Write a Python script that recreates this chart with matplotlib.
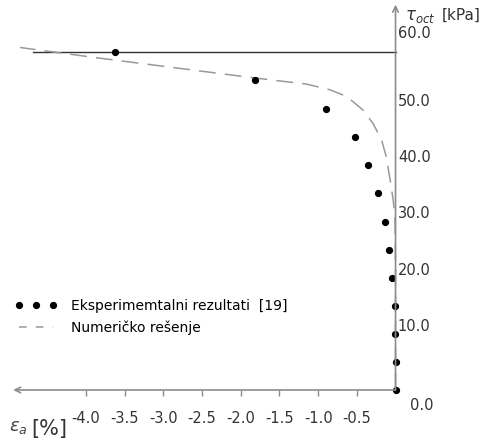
import matplotlib
matplotlib.use("Agg")
import matplotlib.pyplot as plt
from matplotlib.lines import Line2D

# experimental points (strain %, tau_oct kPa)
exp_strain = [0.0, 0.0, -0.005, -0.005, -0.04, -0.08, -0.14, -0.22, -0.36, -0.53, -0.90, -1.82, -3.62]
exp_tau = [0.0, 4.9, 9.9, 14.9, 19.9, 24.9, 29.8, 34.9, 40.0, 44.9, 49.9, 55.0, 60.0]

# numerical solution
num_strain = [0.0, 0.0, -0.006, -0.03, -0.07, -0.12, -0.18, -0.29, -0.42, -0.63, -0.85,
              -1.15, -1.58, -2.0, -2.96, -3.82, -4.85]
num_tau = [0.0, 22.0, 30.2, 33.7, 37.3, 41.4, 44.4, 47.3, 49.7, 52.1, 53.3,
           54.3, 55.0, 55.7, 57.4, 58.9, 60.8]

# failure line
fail_tau = 60.0
fail_strain = [-4.68, 0.0]

x_ticks = [-4.0, -3.5, -3.0, -2.5, -2.0, -1.5, -1.0, -0.5]
y_ticks = [10, 20, 30, 40, 50, 60]

plt.rcParams['font.family'] = ['DejaVu Sans']
plt.rcParams['mathtext.fontset'] = 'dejavusans'

fig = plt.figure(figsize=(4.84, 4.40), dpi=100)
ax = fig.add_axes([0, 0, 1, 1])
ax.set_xlim(-5.11, 1.143)
ax.set_ylim(-8.876, 69.23)
ax.axis('off')

axis_col = '#8c8c8c'
ax.annotate('', xy=(-4.94, 0), xytext=(0, 0),
            arrowprops=dict(arrowstyle='->', color=axis_col, lw=1.2, shrinkA=0, shrinkB=0))
ax.annotate('', xy=(0, 68.4), xytext=(0, 0),
            arrowprops=dict(arrowstyle='->', color=axis_col, lw=1.2, shrinkA=0, shrinkB=0))

# tick marks on x axis
ax.plot(x_ticks, [0] * len(x_ticks), linestyle='none', marker=3, markersize=4,
        color=axis_col, markeredgewidth=1)

for xt in x_ticks:
    ax.text(xt, -5.1, f'{xt:.1f}', ha='center', va='center', fontsize=10.5, color='#333333')
ax.text(0.34, -2.7, '0.0', ha='center', va='center', fontsize=10.5, color='#333333')
for yt in y_ticks:
    off = 3.2 if yt == 60 else 1.3
    ax.text(0.03, yt + off, f'{yt:.1f}', ha='left', va='center', fontsize=10.5, color='#333333')

ax.text(0.12, 66.4, r'$\tau_{oct}$', ha='left', va='center', fontsize=12, color='#333333')
ax.text(0.6, 66.6, '[kPa]', ha='left', va='center', fontsize=11, color='#333333')
ax.text(-5.0, -6.5, r'$\varepsilon_a$', ha='left', va='center', fontsize=13, color='#444444')
ax.text(-4.70, -7.0, '[%]', ha='left', va='center', fontsize=15, color='#333333')

# failure line
ax.plot(fail_strain, [fail_tau, fail_tau], color='#333333', lw=1)

# numerical
ax.plot(num_strain, num_tau, color='#999999', lw=1.1, dashes=(11, 6))

# experiment
ax.plot(exp_strain, exp_tau, linestyle='none', marker='o', markersize=4.2, color='black')

handles = [
    Line2D([], [], linestyle='none', marker='o', markersize=4.2, color='black'),
    Line2D([], [], color='#999999', lw=1.1, dashes=(5, 6)),
]
ax.legend(handles, ['Eksperimemtalni rezultati  [19]', 'Numeričko rešenje'],
          loc='upper left', bbox_to_anchor=(15 / 484, 1 - 299 / 440), frameon=False,
          numpoints=3, handlelength=3.0, handletextpad=1.0, labelspacing=0.55,
          borderpad=0, borderaxespad=0, fontsize=10)

fig.savefig('out.png', dpi=100)
